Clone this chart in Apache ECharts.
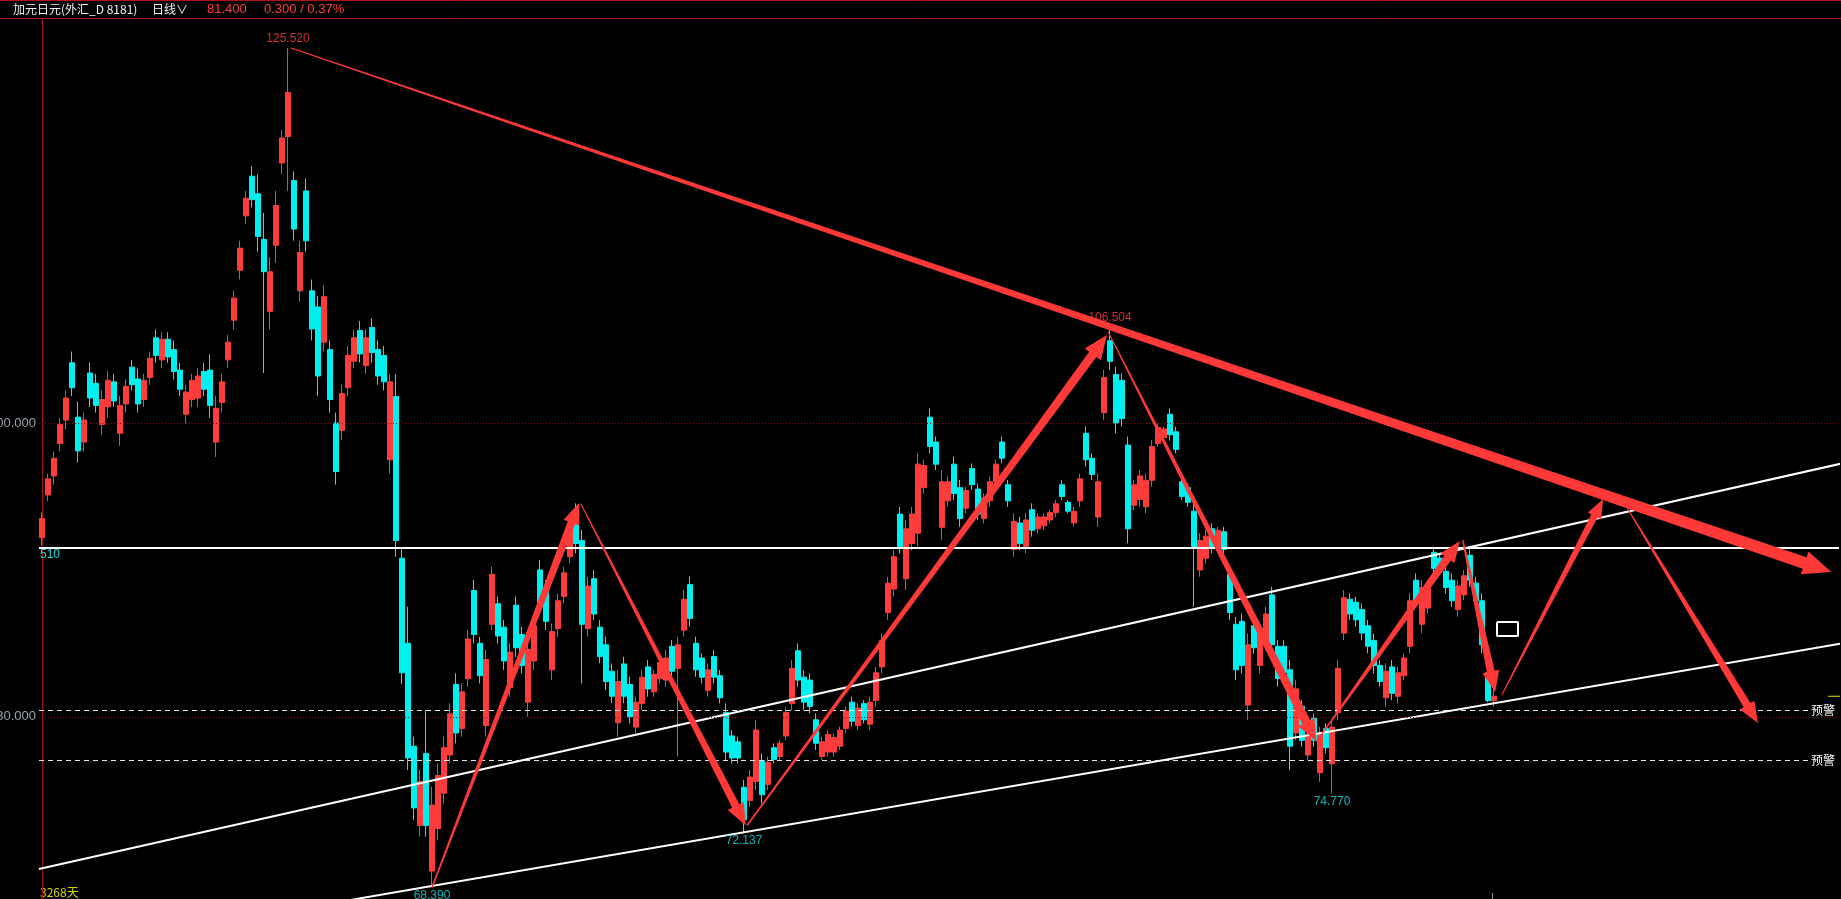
<!DOCTYPE html>
<html>
<head>
<meta charset="utf-8">
<script src="https://cdn.jsdelivr.net/npm/echarts/dist/echarts.min.js"></script>
<style>
html,body{margin:0;padding:0;background:#000;}
#chart{width:1841px;height:899px;}
</style>
</head>
<body>
<div id="chart"></div>
<script>
// ---------------- data ----------------
const opens = [92.2,95.1,96.4,98.6,100.2,104.1,100.4,98.7,103.4,102.7,99.9,101.1,102.8,99.3,101.3,103.8,103.0,101.6,103.1,105.8,104.3,105.7,105.0,103.6,100.6,101.6,101.7,103.5,103.6,98.7,101.4,104.3,107.0,110.4,114.1,116.8,115.6,112.5,107.6,112.1,117.7,119.5,116.5,109.0,115.8,109.0,107.9,105.5,105.0,100.0,99.5,102.4,104.2,106.3,103.9,106.5,105.0,104.6,97.5,101.8,90.8,85.0,78.0,72.6,77.5,69.5,72.4,74.8,77.4,82.2,79.2,82.6,88.6,85.0,79.4,86.3,87.7,86.1,82.0,87.6,85.6,81.0,83.8,90.0,88.7,83.2,86.0,88.2,90.9,94.0,92.0,86.0,89.4,86.1,84.9,83.1,79.6,83.6,82.2,79.3,80.9,83.4,81.7,82.6,82.5,84.8,83.3,85.9,89.0,85.0,84.0,81.8,84.1,82.8,80.3,78.7,78.3,75.2,74.3,75.6,77.0,75.4,77.9,77.3,78.7,80.9,84.5,82.7,82.5,79.8,77.3,77.6,77.6,78.0,79.2,81.0,79.4,80.9,79.5,81.1,83.4,87.1,88.7,93.8,89.4,91.8,92.5,95.6,100.4,98.7,92.9,94.7,97.2,95.6,94.2,96.9,95.5,93.5,94.7,96.0,98.7,95.8,91.4,93.2,91.6,94.1,92.8,93.0,93.4,93.9,95.8,94.6,93.2,94.7,99.3,97.6,93.6,100.7,105.6,103.3,102.9,98.5,94.4,94.8,94.3,96.1,98.6,99.0,100.6,99.4,96.0,95.6,94.0,90.0,90.8,92.8,91.6,92.6,89.7,86.3,86.5,80.8,86.2,83.5,85.0,88.3,84.8,84.8,83.2,78.9,80.7,77.4,79.9,76.2,79.2,76.8,80.3,85.7,88.0,87.8,87.3,86.2,85.2,83.5,81.3,83.4,81.4,82.8,84.8,89.3,86.3,87.4,91.2,90.8,89.9,89.3,87.3,88.3,91.0,89.1,87.9,83.0,81.1];
const closes = [93.5,96.2,97.6,99.9,101.7,102.4,98.1,100.2,101.7,101.2,101.6,102.9,101.5,101.2,102.5,102.6,101.3,102.9,104.4,104.6,105.7,104.5,103.5,102.3,102.1,102.9,103.2,102.3,101.2,101.0,102.8,105.5,108.5,111.9,115.3,115.2,112.7,110.3,110.3,114.8,119.4,122.5,113.2,111.6,112.4,106.4,103.2,108.6,101.6,96.7,102.0,104.6,105.8,104.7,105.8,104.8,103.2,102.8,102.8,92.0,83.0,77.2,73.8,75.6,72.6,74.0,76.0,77.9,80.2,78.9,81.7,85.3,85.6,82.8,83.9,89.7,85.5,83.8,84.4,84.7,83.5,84.6,86.2,87.8,86.5,85.8,87.9,89.8,92.7,91.8,86.3,88.9,87.0,84.1,82.4,81.4,82.4,81.4,80.0,81.0,82.7,81.9,82.9,83.7,84.0,83.1,84.9,88.0,86.7,83.2,82.7,83.2,82.7,81.3,77.6,77.2,77.2,73.0,75.9,79.1,74.7,76.9,77.1,78.2,80.3,83.3,82.5,81.0,80.7,78.2,78.3,78.8,78.6,79.1,80.4,79.7,80.6,79.8,81.0,83.0,85.2,89.1,90.9,91.6,92.8,93.8,97.2,97.1,98.4,97.2,96.0,96.0,95.2,93.5,95.4,95.8,93.8,94.9,96.0,97.2,97.6,94.7,93.3,91.8,93.4,92.7,93.6,93.6,93.9,94.5,95.0,94.0,94.0,96.2,97.5,96.5,96.0,103.1,104.2,100.0,100.3,92.8,95.8,96.4,96.1,98.4,99.7,99.6,99.2,98.2,95.0,94.6,91.5,92.0,92.3,91.6,92.7,91.4,87.1,83.2,83.5,84.9,84.7,85.7,87.0,84.9,82.6,83.0,78.0,81.9,78.4,78.8,78.4,78.9,77.9,79.3,83.3,88.1,87.0,86.6,85.7,84.8,83.5,82.4,83.1,81.6,83.0,84.0,87.9,87.9,88.8,88.9,90.1,90.0,88.8,87.9,88.9,89.6,89.3,87.9,84.9,81.1,81.4];
const lows = [91.65,94.67,95.8,98.07,99.57,101.84,97.31,98.07,101.09,100.71,99.2,100.33,101.09,98.45,100.71,102.22,100.71,101.09,102.6,104.11,103.73,104.11,102.97,101.84,99.96,101.09,101.09,101.84,100.33,97.69,100.71,103.73,106.37,109.77,113.54,114.67,111.66,103.4,106.37,110.9,116.94,115.8,112.41,108.26,111.66,105.62,101.84,104.86,100.71,95.8,98.82,101.84,103.73,104.11,103.35,104.11,102.6,102.22,96.56,90.9,82.22,76.38,72.97,71.84,71.84,68.39,71.61,74.11,76.83,78.19,78.65,82.05,85.0,82.28,78.65,85.91,85.0,83.19,81.37,84.09,82.96,80.01,83.19,87.27,85.91,82.5,85.45,87.72,90.45,91.13,82.28,85.45,86.59,83.64,81.82,80.92,78.65,80.92,79.55,78.87,80.46,81.37,81.37,82.28,82.05,82.73,77.29,85.45,86.14,82.73,82.28,81.37,82.28,80.92,77.06,76.83,76.83,72.137,73.88,75.02,74.11,75.02,76.83,77.06,78.42,80.46,82.05,80.46,80.23,77.74,77.06,77.29,77.29,77.74,78.87,79.33,79.1,79.55,79.1,80.69,82.96,86.59,88.18,91.13,88.63,91.35,91.58,95.21,97.93,96.8,92.03,94.3,94.76,92.94,93.85,95.44,93.39,93.17,94.3,95.66,97.25,94.3,90.9,91.35,91.13,92.26,92.49,92.71,93.17,93.62,94.76,93.85,92.94,94.3,97.03,96.12,92.94,100.2,103.61,99.3,99.75,91.81,94.07,94.3,93.85,95.66,98.38,98.84,98.8,97.93,94.75,94.3,87.49,89.54,90.44,91.13,91.35,91.13,86.59,82.5,82.95,79.78,84.32,82.95,84.54,84.32,82.05,82.5,76.37,78.42,77.96,77.06,77.96,75.58,77.51,74.77,79.78,85.22,86.59,86.13,85.22,84.32,82.95,82.05,80.69,81.14,80.91,82.5,84.32,87.49,85.68,87.04,89.76,89.76,88.4,87.49,86.81,87.94,88.85,87.49,84.32,81.0,80.69];
const highs = [93.92,96.56,98.07,100.33,102.22,104.86,101.46,100.71,104.11,103.35,102.22,103.54,103.35,101.84,102.97,104.3,103.73,103.35,104.86,106.37,106.18,106.18,105.62,104.11,102.6,103.35,103.73,104.11,104.67,101.84,103.35,105.99,109.01,112.41,115.8,117.5,116.94,114.3,111.28,115.8,119.96,125.52,117.13,112.41,116.64,109.77,108.64,109.39,105.62,100.71,102.6,105.24,106.37,106.94,106.37,107.13,105.62,105.24,103.35,103.35,91.5,87.5,78.65,76.38,80.46,75.24,76.83,78.65,80.92,82.96,82.28,85.91,89.31,85.45,84.55,90.22,88.18,86.59,85.0,88.18,86.14,85.45,86.82,90.67,89.31,86.36,88.4,90.22,93.17,94.53,92.72,89.54,89.99,86.59,85.45,83.64,83.19,84.09,82.73,81.37,83.19,83.87,83.19,84.09,84.55,85.23,85.45,88.63,89.54,85.45,84.32,83.64,84.55,83.19,80.92,79.1,78.65,75.7,76.38,79.78,77.51,77.29,78.19,78.42,80.69,83.87,85.0,83.19,82.96,80.23,78.65,79.1,78.87,79.33,80.69,81.37,80.92,81.14,81.37,83.41,85.68,89.54,91.35,94.3,93.4,94.3,97.93,97.48,100.99,99.07,96.8,96.35,97.71,96.12,95.66,97.25,95.89,95.21,96.35,97.48,99.07,96.12,93.85,93.62,93.85,94.53,93.85,93.85,94.08,94.76,96.12,94.76,94.3,96.57,99.75,97.93,96.57,103.61,106.504,103.83,103.38,99.07,96.12,96.8,96.57,98.84,99.97,99.75,101.0,99.75,96.34,95.89,94.53,92.49,92.71,93.17,92.94,92.94,90.22,86.81,87.04,85.68,86.59,86.13,87.49,88.85,85.22,85.22,83.86,82.5,81.14,79.1,80.23,79.32,79.55,79.78,83.86,88.63,88.4,88.17,87.72,86.59,85.68,83.86,83.64,83.86,83.41,84.32,88.4,89.76,89.31,89.31,91.58,91.13,90.22,89.76,89.31,89.99,91.58,89.54,88.4,83.41,82.05];

const dayCount = 300;              // slots on the time axis (bars + empty space on the right)
const highLabels = [[41, 125.52], [178, 106.504]];
const lowLabels = [[65, 68.39], [117, 72.137], [215, 74.77]];
const gridLevels = [100, 80];
const gridLevelText = ['100.000', '80.000'];
const supportLevel = 91.51;
const supportText = '510';
const warnLevels = [80.45, 77.05];
const lastPrice = 81.4;
const upperChannel = [[-0.5, 69.64], [300, 97.25]];
const lowerChannel = [[0, 63.92], [300, 85.0]];
const lastPriceTick = [[297.7, 81.4], [300, 81.4]];
const noteBox = [[242.5, 86.45], [246, 86.45], [246, 85.5], [242.5, 85.5], [242.5, 86.45]];
const arrowStart = [[41.5, 125.52], [65, 68.39], [89.8, 94.5], [117.5, 72.6], [177.7, 106.19], [212.4, 78.3], [236.8, 92.03], [243.3, 81.48], [264, 94.35]];
const arrowEnd = [[298.2, 89.86], [89.5, 94.55], [117.3, 72.6], [177.5, 105.99], [212.4, 78.3], [236.3, 91.97], [242.2, 81.69], [260.2, 94.82], [286, 79.58]];

// ---------------- styles ----------------
const UP = '#ff3c3c', DOWN = '#00f0f0', ARROW = '#ff3838';
// [tail width, shaft width at head, head width, head length] in px
const arrowShape = [[1, 12, 24, 28], [1.5, 8, 17, 21], [1, 8, 18, 22], [1.5, 9, 20, 24], [1, 9, 18, 22], [1, 8, 17, 21], [1.5, 8, 17, 21], [1, 7, 15, 19], [1, 8, 17, 21]];

const categories = [];
for (let i = 0; i < dayCount; i++) categories.push(String(i + 1));
const candleData = opens.map((o, i) => [o, closes[i], lows[i], highs[i]]);
const arrowData = arrowStart.map((s, k) => [s[0], s[1], arrowEnd[k][0], arrowEnd[k][1]]);

function renderArrow(params, api) {
  const st = arrowShape[params.dataIndex];
  const p0 = api.coord([api.value(0), api.value(1)]);
  const p1 = api.coord([api.value(2), api.value(3)]);
  const dx = p1[0] - p0[0], dy = p1[1] - p0[1];
  const len = Math.hypot(dx, dy);
  const ux = dx / len, uy = dy / len, nx = -uy, ny = ux;
  const bx = p1[0] - ux * st[3], by = p1[1] - uy * st[3];
  const pts = [
    [p0[0] + nx * st[0] / 2, p0[1] + ny * st[0] / 2],
    [bx + nx * st[1] / 2, by + ny * st[1] / 2],
    [bx + nx * st[2] / 2, by + ny * st[2] / 2],
    [p1[0], p1[1]],
    [bx - nx * st[2] / 2, by - ny * st[2] / 2],
    [bx - nx * st[1] / 2, by - ny * st[1] / 2],
    [p0[0] - nx * st[0] / 2, p0[1] - ny * st[0] / 2]
  ];
  return { type: 'polygon', shape: { points: pts }, style: { fill: ARROW } };
}

const FONT = '"Liberation Sans", Arial, sans-serif';
const CJK = '"Noto Sans CJK SC", sans-serif';

const markLines = [];
gridLevels.forEach((v, k) => markLines.push({
  yAxis: v,
  lineStyle: { color: '#8a0c0c', type: [1, 2], width: 1 },
  label: { show: true, position: 'start', distance: 3, formatter: gridLevelText[k], color: '#9aa2ac', fontSize: 13, fontFamily: FONT }
}));
warnLevels.forEach(v => markLines.push({
  yAxis: v,
  lineStyle: { color: '#e8e8e8', type: [5, 4], width: 1 },
  label: { show: true, position: 'insideEnd', distance: 3, formatter: '预警', color: '#ffffff', fontSize: 12, fontFamily: CJK, backgroundColor: '#000', padding: [0, 1] }
}));
markLines.push({
  yAxis: supportLevel,
  lineStyle: { color: '#ffffff', type: 'solid', width: 2 },
  label: { show: true, position: 'insideStartBottom', distance: 1, formatter: supportText, color: '#19e0e0', fontSize: 12, fontFamily: FONT }
});

const chart = echarts.init(document.getElementById('chart'), null, { renderer: 'canvas' });
chart.setOption({
  backgroundColor: '#000',
  animation: false,
  grid: { left: 39, right: 2, top: 19, bottom: 0, containLabel: false },
  xAxis: [
    { type: 'category', data: categories, boundaryGap: true, show: false },
    { type: 'value', min: -0.5, max: dayCount - 0.5, show: false }
  ],
  yAxis: {
    type: 'value', min: 67.6, max: 127.5, scale: true,
    axisLine: { show: true, lineStyle: { color: '#a01414', width: 1 } },
    axisTick: { show: false }, axisLabel: { show: false }, splitLine: { show: false }
  },
  graphic: [
    { type: 'line', shape: { x1: 0, y1: 0.5, x2: 1841, y2: 0.5 }, style: { stroke: '#b01414', lineWidth: 1 } },
    { type: 'line', shape: { x1: 0, y1: 18.5, x2: 1841, y2: 18.5 }, style: { stroke: '#b01414', lineWidth: 1 } },
    { type: 'text', x: 13, y: 9, style: { text: '加元日元(外汇_D 8181)', fill: '#f0f0f0', font: '12px ' + CJK, verticalAlign: 'middle' } },
    { type: 'text', x: 152, y: 9, style: { text: '日线∨', fill: '#f0f0f0', font: '12px ' + CJK, verticalAlign: 'middle' } },
    { type: 'text', x: 207, y: 9, style: { text: '81.400', fill: '#ff3c3c', font: '13px ' + FONT, verticalAlign: 'middle' } },
    { type: 'text', x: 264, y: 9, style: { text: '0.300 / 0.37%', fill: '#ff3c3c', font: '13px ' + FONT, verticalAlign: 'middle' } },
    { type: 'text', x: 40, y: 892, style: { text: '3268天', fill: '#d6d600', font: '12px ' + CJK, verticalAlign: 'middle' } },
    { type: 'line', shape: { x1: 1492.5, y1: 893, x2: 1492.5, y2: 899 }, style: { stroke: '#909090', lineWidth: 1 } }
  ],
  series: [
    {
      type: 'candlestick', name: 'CADJPY', xAxisIndex: 0, yAxisIndex: 0,
      data: candleData, barWidth: 5,
      itemStyle: { color: UP, color0: DOWN, borderColor: UP, borderColor0: DOWN, borderWidth: 1 },
      markLine: { silent: true, symbol: ['none', 'none'], animation: false, data: markLines },
      z: 2
    },
    {
      type: 'line', xAxisIndex: 1, data: upperChannel, symbol: 'none', clip: true, silent: true,
      lineStyle: { color: '#ffffff', width: 2 }, z: 3
    },
    {
      type: 'line', xAxisIndex: 1, data: lowerChannel, symbol: 'none', clip: true, silent: true,
      lineStyle: { color: '#ffffff', width: 2 }, z: 3
    },
    {
      type: 'line', xAxisIndex: 1, data: noteBox, symbol: 'none', clip: true, silent: true,
      lineStyle: { color: '#ffffff', width: 2 }, z: 3
    },
    {
      type: 'line', xAxisIndex: 1, data: lastPriceTick, symbol: 'none', clip: true, silent: true,
      lineStyle: { color: '#e6e600', width: 1 }, z: 3
    },
    {
      type: 'custom', xAxisIndex: 1, yAxisIndex: 0, data: arrowData, renderItem: renderArrow,
      encode: { x: [0, 2], y: [1, 3] }, clip: true, silent: true, z: 5
    },
    {
      type: 'scatter', xAxisIndex: 1, data: highLabels, symbolSize: 1, silent: true,
      itemStyle: { color: 'rgba(0,0,0,0)' },
      label: { show: true, position: 'top', distance: 3, color: '#ff3c3c', fontSize: 12, fontFamily: FONT,
        formatter: p => p.value[1].toFixed(3) }, z: 6
    },
    {
      type: 'scatter', xAxisIndex: 1, data: lowLabels, symbolSize: 1, silent: true,
      itemStyle: { color: 'rgba(0,0,0,0)' },
      label: { show: true, position: 'bottom', distance: 2, color: '#19e0e0', fontSize: 12, fontFamily: FONT,
        formatter: p => p.value[1].toFixed(3) }, z: 6
    }
  ]
});
</script>
</body>
</html>
